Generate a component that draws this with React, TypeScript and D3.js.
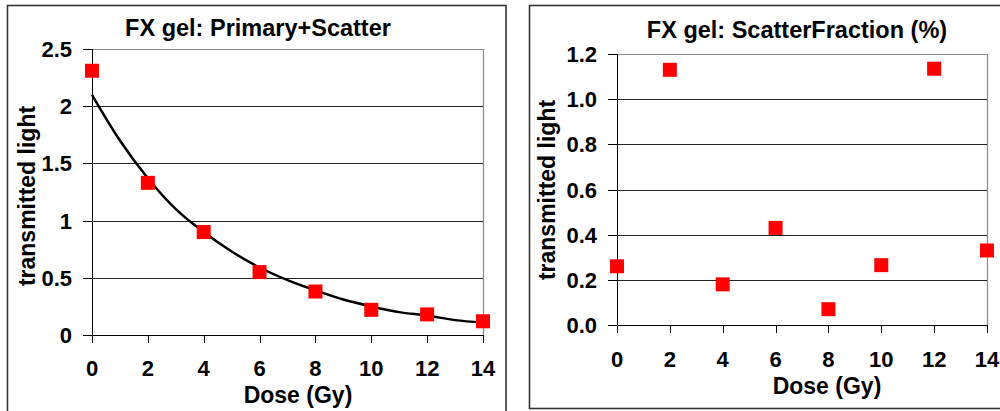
import React from "react";
import * as d3 from "d3";

// ---- data ----
const doses = [0, 2, 4, 6, 8, 10, 12, 14];
const primaryScatter = [2.31, 1.33, 0.9, 0.55, 0.38, 0.22, 0.18, 0.12];
const fitDoses = [0, 1, 2, 3, 4, 5, 6, 7, 8, 9, 10, 11, 12, 13, 14];
const fitValues = [2.1, 1.7, 1.37, 1.1, 0.9, 0.73, 0.59, 0.48, 0.39, 0.31, 0.25, 0.2, 0.17, 0.13, 0.11];
const scatterFraction = [0.26, 1.13, 0.18, 0.43, 0.07, 0.265, 1.135, 0.33];
const leftYTicks = [0, 0.5, 1, 1.5, 2, 2.5];
const rightYTicks = [0, 0.2, 0.4, 0.6, 0.8, 1.0, 1.2];
const xTicks = [0, 2, 4, 6, 8, 10, 12, 14];
const titles = ["FX gel: Primary+Scatter", "FX gel: ScatterFraction (%)"];
const xLabel = "Dose (Gy)";
const yLabel = "transmitted light";

const FONT = "'Liberation Sans', Arial, sans-serif";

type PanelProps = {
  x0: number; x1: number; y0: number; y1: number;
  yMax: number; yTicks: number[]; yFmt: (v: number) => string;
  values: number[]; fit?: { xs: number[]; ys: number[] };
  title: string; titleX: number; titleY: number;
  xLabelX: number; xLabelY: number; xTickY: number;
  yLabelX: number; yLabelY: number; yTickGap: number;
};

function Panel(p: PanelProps) {
  const x = d3.scaleLinear().domain([0, 14]).range([p.x0, p.x1]);
  const y = d3.scaleLinear().domain([0, p.yMax]).range([p.y0, p.y1]);
  const line = d3
    .line<number>()
    .x((_, i) => x(p.fit ? p.fit.xs[i] : 0))
    .y((d) => y(d))
    .curve(d3.curveMonotoneX);
  const ms = 14;
  return (
    <g>
      {/* gridlines */}
      {p.yTicks.filter((t) => t > 0 && t < p.yMax).map((t) => (
        <line key={"g" + t} x1={p.x0} x2={p.x1} y1={Math.round(y(t)) + 0.5} y2={Math.round(y(t)) + 0.5} stroke="#222" strokeWidth={1} />
      ))}
      {/* plot border top/right */}
      <line x1={p.x0} x2={p.x1} y1={p.y1 + 0.5} y2={p.y1 + 0.5} stroke="#888" strokeWidth={1.2} />
      <line x1={p.x1 + 0.5} x2={p.x1 + 0.5} y1={p.y1} y2={p.y0} stroke="#888" strokeWidth={1.2} />
      {/* axes */}
      <line x1={p.x0 + 0.5} x2={p.x0 + 0.5} y1={p.y1} y2={p.y0 + 8} stroke="#000" strokeWidth={1} />
      <line x1={p.x0 - 9} x2={p.x1} y1={p.y0 + 0.5} y2={p.y0 + 0.5} stroke="#000" strokeWidth={1} />
      {p.yTicks.map((t) => (
        <g key={"yt" + t}>
          <line x1={p.x0 - 9} x2={p.x0} y1={Math.round(y(t)) + 0.5} y2={Math.round(y(t)) + 0.5} stroke="#000" strokeWidth={1} />
          <text x={p.x0 - p.yTickGap} y={y(t) + 8} textAnchor="end" fontFamily={FONT} fontWeight="bold" fontSize={22}>
            {p.yFmt(t)}
          </text>
        </g>
      ))}
      {xTicks.map((t) => (
        <g key={"xt" + t}>
          <line x1={Math.round(x(t)) + 0.5} x2={Math.round(x(t)) + 0.5} y1={p.y0} y2={p.y0 + 8} stroke="#000" strokeWidth={1} />
          <text x={x(t)} y={p.xTickY} textAnchor="middle" fontFamily={FONT} fontWeight="bold" fontSize={22}>
            {t}
          </text>
        </g>
      ))}
      {/* fit curve */}
      {p.fit && <path d={line(p.fit.ys) || ""} fill="none" stroke="#000" strokeWidth={2.5} />}
      {/* markers */}
      {p.values.map((v, i) => (
        <rect key={"m" + i} x={x(doses[i]) - ms / 2} y={y(v) - ms / 2} width={ms} height={ms} fill="#ff0000" />
      ))}
      {/* labels */}
      <text x={p.titleX} y={p.titleY} textAnchor="middle" fontFamily={FONT} fontWeight="bold" fontSize={23.5}>
        {p.title}
      </text>
      <text x={p.xLabelX} y={p.xLabelY} textAnchor="middle" fontFamily={FONT} fontWeight="bold" fontSize={23}>
        {xLabel}
      </text>
      <text
        transform={`translate(${p.yLabelX},${p.yLabelY}) rotate(-90)`}
        textAnchor="middle"
        fontFamily={FONT}
        fontWeight="bold"
        fontSize={23}
      >
        {yLabel}
      </text>
    </g>
  );
}

export default function App() {
  return (
    <svg width={1000} height={411} style={{ position: "absolute", left: 0, top: 0, background: "#fff" }}>
      <rect x={0} y={0} width={1000} height={411} fill="#fff" />
      {/* panel frames */}
      <rect x={7.5} y={5.5} width={498.5} height={420} fill="none" stroke="#333" strokeWidth={1.6} />
      <rect x={529.5} y={5.5} width={480} height={403} fill="none" stroke="#333" strokeWidth={1.6} />
      <Panel
        x0={92} x1={483} y0={335} y1={49}
        yMax={2.5} yTicks={leftYTicks} yFmt={(v) => String(v)}
        values={primaryScatter}
        fit={{ xs: fitDoses, ys: fitValues }}
        title={titles[0]} titleX={258} titleY={36}
        xLabelX={298} xLabelY={403} xTickY={376}
        yLabelX={35} yLabelY={196} yTickGap={20}
      />
      <Panel
        x0={617} x1={987} y0={325} y1={54}
        yMax={1.2} yTicks={rightYTicks} yFmt={(v) => v.toFixed(1)}
        values={scatterFraction}
        title={titles[1]} titleX={797} titleY={38}
        xLabelX={827} xLabelY={394} xTickY={367}
        yLabelX={555} yLabelY={190} yTickGap={20}
      />
    </svg>
  );
}
